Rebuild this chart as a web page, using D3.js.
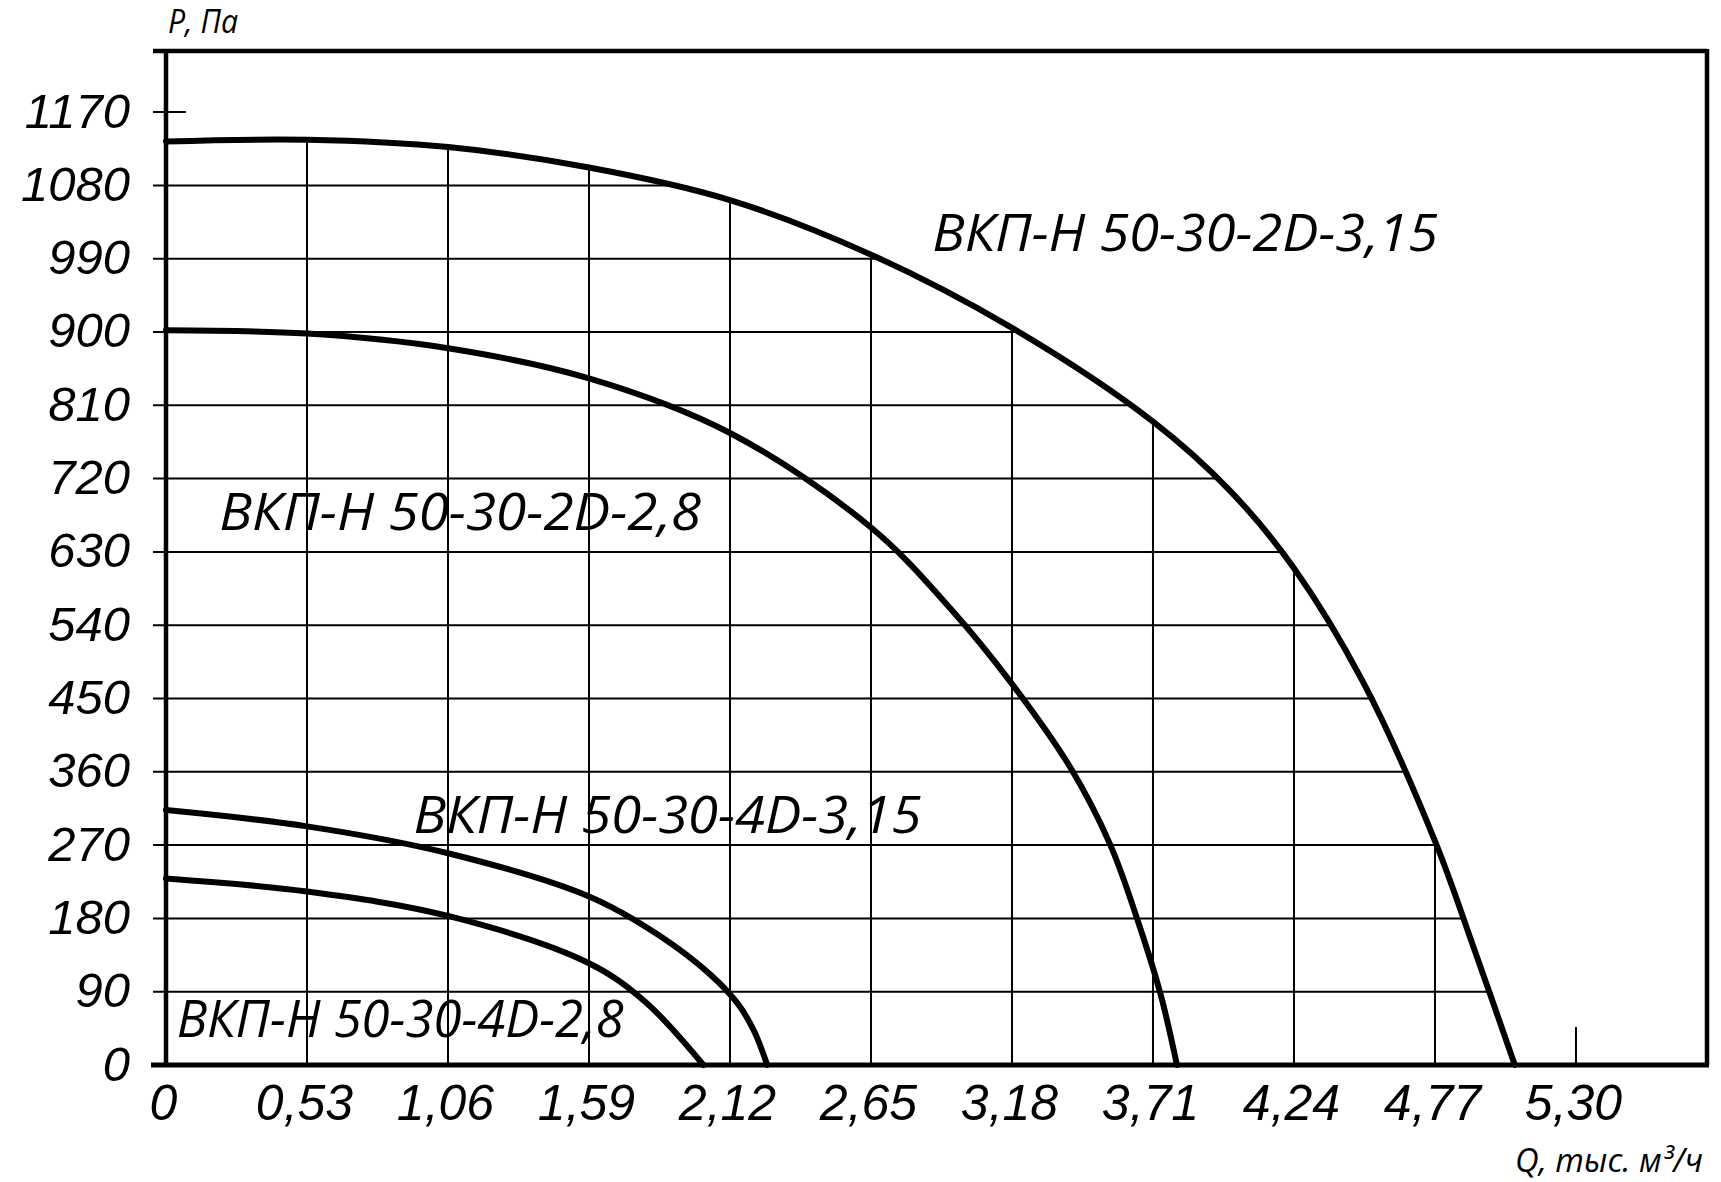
<!DOCTYPE html>
<html>
<head>
<meta charset="utf-8">
<script src="https://cdn.jsdelivr.net/npm/d3@7"></script>
<style>
  body { margin: 0; background: #fff; }
  text { font-family: "Open Sans", "Liberation Sans", sans-serif; font-style: italic; fill: #000; }
</style>
</head>
<body>
<div id="chart"></div>
<script>
// Tick values
const xTicks = [0, 0.53, 1.06, 1.59, 2.12, 2.65, 3.18, 3.71, 4.24, 4.77, 5.30];
const yTicks = [0, 90, 180, 270, 360, 450, 540, 630, 720, 810, 900, 990, 1080, 1170];

// Curves: Q, тыс. м3/ч  ->  P, Па
const q2D315 = [0, 0.53, 1.06, 1.59, 2.12, 2.65, 3.18, 3.71, 4.0, 4.24, 4.5, 4.77, 4.92, 5.07];
const p2D315 = [1134, 1136, 1127, 1102, 1062, 995, 905, 790, 705, 610, 470, 275, 140, 0];

const q2D28 = [0, 0.53, 1.06, 1.59, 2.12, 2.65, 2.95, 3.18, 3.4, 3.55, 3.66, 3.74, 3.80];
const p2D28 = [902, 898, 880, 843, 776, 660, 560, 468, 365, 270, 170, 85, 0];

const q4D315 = [0, 0.53, 1.06, 1.59, 1.85, 2.05, 2.15, 2.21, 2.26];
const p4D315 = [313, 293, 260, 207, 160, 110, 75, 42, 0];

const q4D28 = [0, 0.53, 1.06, 1.59, 1.8, 2.02];
const p4D28 = [229, 213, 183, 125, 78, 0];

const names = ["ВКП-Н 50-30-2D-3,15", "ВКП-Н 50-30-2D-2,8", "ВКП-Н 50-30-4D-3,15", "ВКП-Н 50-30-4D-2,8"];

const margin = { top: 51, right: 12, bottom: 117, left: 166 };
const width = 1721 - margin.left - margin.right;
const height = 1182 - margin.top - margin.bottom;

const svg = d3.select("#chart")
    .append("svg")
    .attr("width", 1721)
    .attr("height", 1182)
    .append("g")
    .attr("transform", `translate(${margin.left},${margin.top})`);

const x = d3.scaleLinear().domain([0, 5.80]).range([0, width]);
const y = d3.scaleLinear().domain([0, 1245]).range([height, 0]);

const series = [
    d3.zip(q2D315, p2D315),
    d3.zip(q2D28, p2D28),
    d3.zip(q4D315, p4D315),
    d3.zip(q4D28, p4D28)
];

const line = d3.line()
    .x(d => x(d[0]))
    .y(d => y(d[1]))
    .curve(d3.curveCatmullRom.alpha(0.5));

// grid is clipped to the area under the biggest curve, plus small stubs
const area = d3.area()
    .x(d => x(d[0]))
    .y0(height)
    .y1(d => y(d[1]))
    .curve(d3.curveCatmullRom.alpha(0.5));

const clip = svg.append("clipPath").attr("id", "gridclip");
clip.append("path").attr("d", area(series[0]));
clip.append("rect").attr("x", -14).attr("y", 0).attr("width", 34).attr("height", height);
clip.append("rect").attr("x", 0).attr("y", height - 38).attr("width", width).attr("height", 38);

const grid = svg.append("g").attr("clip-path", "url(#gridclip)");
grid.selectAll(".hgrid")
    .data(yTicks.filter(d => d > 0))
    .enter().append("line")
    .attr("x1", -13).attr("x2", width)
    .attr("y1", d => y(d)).attr("y2", d => y(d))
    .attr("stroke", "#000").attr("stroke-width", 2);
grid.selectAll(".vgrid")
    .data(xTicks.filter(d => d > 0))
    .enter().append("line")
    .attr("x1", d => x(d)).attr("x2", d => x(d))
    .attr("y1", 0).attr("y2", height)
    .attr("stroke", "#000").attr("stroke-width", 2);

// frame
svg.append("line").attr("x1", -13).attr("x2", width - 2).attr("y1", 0).attr("y2", 0)
    .attr("stroke", "#000").attr("stroke-width", 4.5);
svg.append("line").attr("x1", width - 2).attr("x2", width - 2).attr("y1", -2).attr("y2", height)
    .attr("stroke", "#000").attr("stroke-width", 4.5);
svg.append("line").attr("x1", 0).attr("x2", 0).attr("y1", 0).attr("y2", height)
    .attr("stroke", "#000").attr("stroke-width", 4.5);
svg.append("line").attr("x1", -15).attr("x2", width).attr("y1", height).attr("y2", height)
    .attr("stroke", "#000").attr("stroke-width", 5);

// axes labels
const fmt = d => d === 0 ? "0" : d.toFixed(2).replace(".", ",");

const xAxis = svg.append("g")
    .attr("transform", `translate(0,${height})`)
    .call(d3.axisBottom(x).tickValues(xTicks).tickFormat(fmt).tickSize(0));
xAxis.select(".domain").remove();
xAxis.selectAll("text")
    .attr("y", 55).attr("dy", 0).attr("dx", -3)
    .style("font-family", "'Liberation Sans', sans-serif")
    .style("font-size", "50px");

const yAxis = svg.append("g")
    .call(d3.axisLeft(y).tickValues(yTicks).tickFormat(d => d).tickSize(0).tickPadding(36));
yAxis.select(".domain").remove();
yAxis.selectAll("text")
    .attr("dy", 15)
    .style("font-family", "'Liberation Sans', sans-serif")
    .style("font-size", "49px");

svg.append("text")
    .attr("x", 2).attr("y", -18)
    .attr("textLength", 70).attr("lengthAdjust", "spacingAndGlyphs")
    .style("font-size", "32px")
    .text("Р, Па");

svg.append("text")
    .attr("x", 1349).attr("y", height + 107)
    .attr("textLength", 188).attr("lengthAdjust", "spacingAndGlyphs")
    .style("font-size", "32px")
    .text("Q, тыс. м³/ч");

// curves
svg.selectAll(".curve")
    .data(series)
    .enter().append("path")
    .attr("class", "curve")
    .attr("d", line)
    .attr("fill", "none")
    .attr("stroke", "#000")
    .attr("stroke-width", 6)
    .attr("stroke-linecap", "round")
    .attr("stroke-linejoin", "round");

// curve names
const labelPos = [
    { q: 2.88, p: 1000, w: 506 },
    { q: 0.2, p: 657, w: 482 },
    { q: 0.93, p: 285, w: 508 },
    { q: 0.04, p: 34, w: 447 }
];
svg.selectAll(".name")
    .data(names)
    .enter().append("text")
    .attr("class", "name")
    .attr("x", (d, i) => x(labelPos[i].q))
    .attr("y", (d, i) => y(labelPos[i].p))
    .attr("textLength", (d, i) => labelPos[i].w)
    .attr("lengthAdjust", "spacingAndGlyphs")
    .style("font-size", "52px")
    .text(d => d);
</script>
</body>
</html>
